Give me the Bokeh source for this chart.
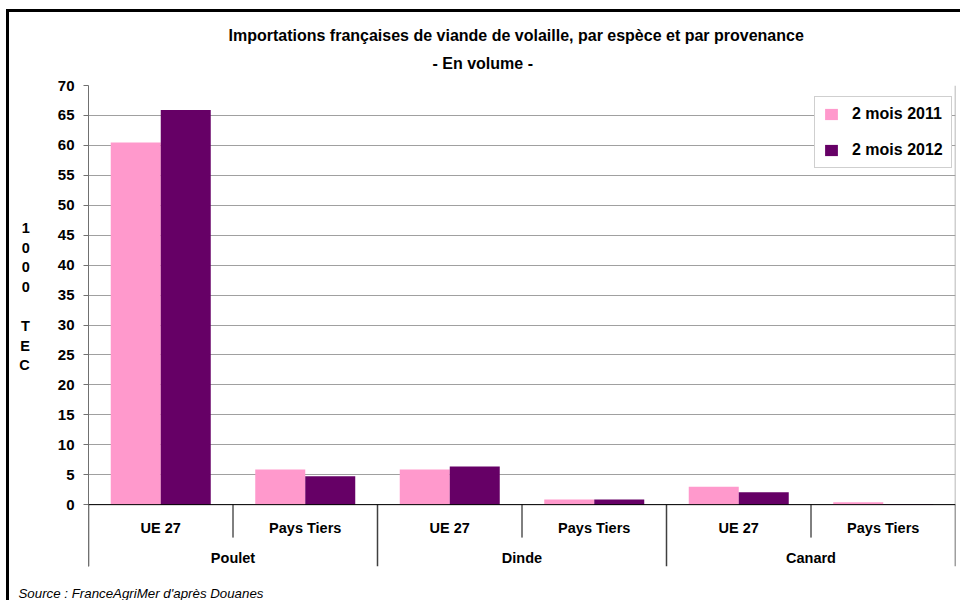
from bokeh.plotting import figure
from bokeh.models import FactorRange, Range1d, FixedTicker, Span, ColumnDataSource, Title
from bokeh.transform import dodge
from bokeh.embed import file_html
from bokeh.resources import INLINE
from bokeh.core.properties import value

# ---- data ----
species = ["Poulet", "Dinde", "Canard"]
origins = ["UE 27", "Pays Tiers"]
series_names = ["2 mois 2011", "2 mois 2012"]
vals_2011 = [60.5, 5.85, 5.85, 0.85, 3.0, 0.4]
vals_2012 = [65.9, 4.75, 6.35, 0.85, 2.05, 0.05]
y_ticks = list(range(0, 75, 5))
title_1 = "Importations françaises de viande de volaille, par espèce et par provenance"
title_2 = "- En volume -"
y_label = "1\n0\n0\n0\n\u00a0\nT\nE\nC\n\u00a0\n\u00a0\n\u00a0"
source_text = "Source : FranceAgriMer d'après Douanes"

FONT = "Liberation Sans"
PINK = "#FF99CC"
PURPLE = "#660066"

factors = [(s, o) for s in species for o in origins]

p = figure(width=960, height=600,
           x_range=FactorRange(*factors, factor_padding=0, group_padding=0, range_padding=0),
           y_range=Range1d(-10.33, 70),
           x_axis_location=None,
           output_backend="svg", toolbar_location=None,
           min_border_left=88, min_border_right=5, min_border_top=85, min_border_bottom=33)
p.styles = {
    "background-color": "white",
    "background-image": "linear-gradient(black, black), linear-gradient(black, black)",
    "background-size": "3px 600px, 960px 3px",
    "background-position": "6px 9px, 6px 9px",
    "background-repeat": "no-repeat",
}
p.outline_line_color = None
p.background_fill_color = "white"
p.border_fill_alpha = 0

# titles (the figure's own title is the outer one)
p.title.text = title_1
p.title.align = "left"
p.title.offset = 140
p.title.standoff = 0
p.title.text_font = FONT
p.title.text_font_style = "bold"
p.title.text_font_size = "16px"
p.title.text_color = "black"
p.add_layout(Title(text=title_2, align="left", offset=344, standoff=23, vertical_align="top",
                   text_font=FONT, text_font_style="bold", text_font_size="16px",
                   text_color="black"), "above")
p.add_layout(Title(text="\u00a0\n" + source_text, align="left", offset=-70, standoff=0,
                   text_font=FONT, text_font_style="italic", text_font_size="13.3px",
                   text_line_height=1.1, text_color="black"), "below")

# y axis
p.yaxis.ticker = FixedTicker(ticks=y_ticks)
p.yaxis.major_label_text_font = FONT
p.yaxis.major_label_text_font_style = "bold"
p.yaxis.major_label_text_font_size = "15px"
p.yaxis.major_label_text_color = "black"
p.yaxis.axis_line_color = "#707070"
p.yaxis.major_tick_line_color = "#707070"
p.yaxis.major_tick_out = 5
p.yaxis.major_tick_in = 0
p.yaxis.minor_tick_line_color = None
p.yaxis.major_label_standoff = 9
p.yaxis.axis_label = y_label
p.yaxis.axis_label_orientation = "horizontal"
p.yaxis.axis_label_text_font = FONT
p.yaxis.axis_label_text_font_style = "bold"
p.yaxis.axis_label_text_font_size = "14.5px"
p.yaxis.axis_label_text_color = "black"
p.yaxis.axis_label_text_line_height = 1.22
p.yaxis.axis_label_standoff = 25
p.ygrid.grid_line_color = "#A0A0A0"
p.xgrid.grid_line_color = None

# bars
src = ColumnDataSource(dict(x=factors, v2011=vals_2011, v2012=vals_2012))
p.vbar(x=dodge("x", -0.173, range=p.x_range), top="v2011", width=0.346, source=src,
       fill_color=PINK, line_color=None, legend_label=series_names[0])
p.vbar(x=dodge("x", 0.173, range=p.x_range), top="v2012", width=0.346, source=src,
       fill_color=PURPLE, line_color=None, legend_label=series_names[1])

# category axis drawn by hand: base line, separators, labels
p.add_layout(Span(location=0, dimension="width", line_color="black", line_width=1))

inner = ColumnDataSource(dict(
    x=[(s, origins[1], -0.5) for s in species],
    y0=[0] * len(species), y1=[-5.5] * len(species)))
p.segment(x0="x", y0="y0", x1="x", y1="y1", source=inner, line_color="black", line_width=1)

outer_x = [(s, origins[0], -0.5) for s in species] + [(species[-1], origins[-1], 0.5)]
outer = ColumnDataSource(dict(
    x=outer_x, y0=[0] * len(outer_x), y1=[p.y_range.start] * len(outer_x)))
p.segment(x0="x", y0="y0", x1="x", y1="y1", source=outer, line_color="#404040", line_width=1.5)

right_edge = ColumnDataSource(dict(x=[(species[-1], origins[-1], 0.5)], y0=[0], y1=[y_ticks[-1]]))
p.segment(x0="x", y0="y0", x1="x", y1="y1", source=right_edge, line_color="#A0A0A0", line_width=1.5)

sub_src = ColumnDataSource(dict(x=factors, label=[f[1] for f in factors]))
p.text(x="x", y=0, text="label", source=sub_src, y_offset=23,
       text_align="center", text_baseline="middle", text_font=value(FONT),
       text_font_style="bold", text_font_size="14.5px", text_color="black")
grp_src = ColumnDataSource(dict(x=species, label=species))
p.text(x="x", y=0, text="label", source=grp_src, y_offset=53,
       text_align="center", text_baseline="middle", text_font=value(FONT),
       text_font_style="bold", text_font_size="14.5px", text_color="black")

# legend
lg = p.legend[0]
lg.location = (726, 398)
lg.border_line_color = "#A0A0A0"
lg.border_line_width = 1
lg.background_fill_color = "white"
lg.background_fill_alpha = 1
lg.padding = 8
lg.spacing = 18
lg.glyph_width = 16
lg.glyph_height = 14
lg.label_height = 14
lg.label_standoff = 13
lg.label_text_font = FONT
lg.label_text_font_style = "bold"
lg.label_text_font_size = "16px"
lg.label_text_color = "black"
lg.margin = 0

open("out.html", "w").write(file_html(p, INLINE))
